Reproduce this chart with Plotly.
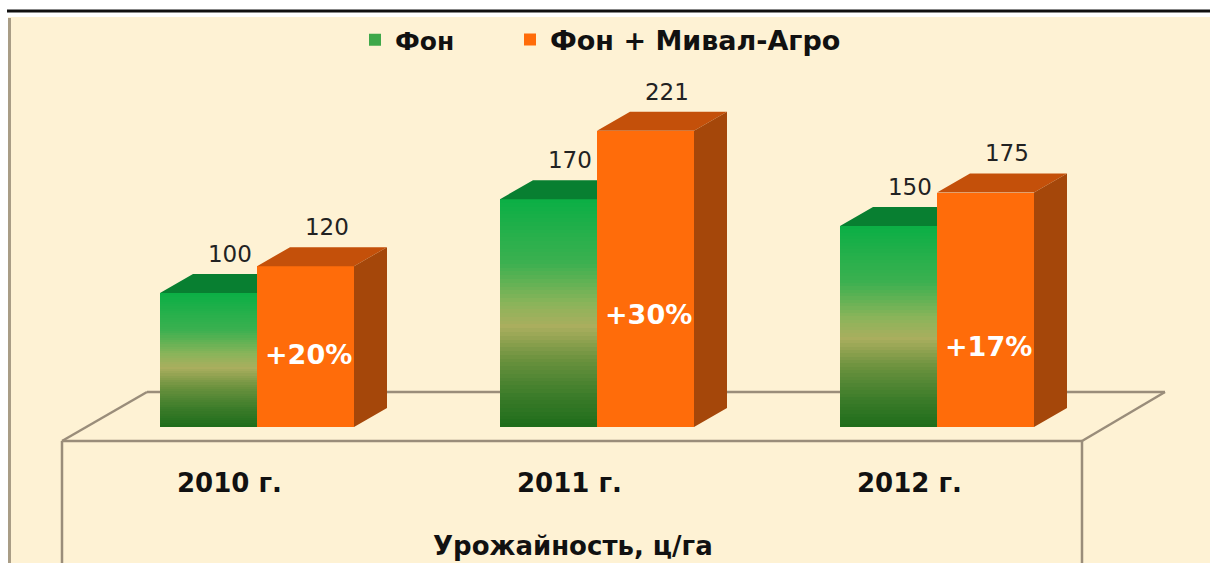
import plotly.graph_objects as go

# ---------------- data ----------------
categories = ["2010 г.", "2011 г.", "2012 г."]
fon = [100, 170, 150]
fon_mival = [120, 221, 175]
series_names = ["Фон", "Фон + Мивал-Агро"]
axis_title = "Урожайность, ц/га"

# ---------------- geometry (pixel calibration of the picture) ----------------
W, H = 1210, 563
X_SCALE = 340.0   # px per category step
X0_PX = 257.0     # px position of the first category centre
Y_SCALE = 1.34    # px per unit of yield
Y0_PX = 427.0     # px position of zero


def xd(p):
    return (p - X0_PX) / X_SCALE


def yd(p):
    return (Y0_PX - p) / Y_SCALE


BAR_W = 97 / X_SCALE
DEPTH_X = 33 / X_SCALE
DEPTH_Y = 19 / Y_SCALE

BOLD = "DejaVu Sans"
GREEN_TOP = "#087F31"
ORANGE_FRONT = "#FF6C0A"
ORANGE_TOP = "#C4500A"
ORANGE_SIDE = "#A5470A"
FLOOR_LINE = "#9A8D7A"
PANEL = "#FEF2D4"

# vertical gradient for the green bars (fraction from top -> rgb)
STOPS = [(0.0, (11, 175, 69)), (0.28, (60, 176, 80)), (0.46, (140, 180, 90)),
         (0.56, (170, 174, 94)), (0.70, (108, 146, 62)), (0.86, (60, 124, 42)),
         (1.0, (30, 108, 26))]


def grad(t):
    for (t0, c0), (t1, c1) in zip(STOPS[:-1], STOPS[1:]):
        if t0 <= t <= t1:
            f = (t - t0) / (t1 - t0)
            return "rgb(%d,%d,%d)" % tuple(round(a + (b - a) * f) for a, b in zip(c0, c1))
    return "rgb(%d,%d,%d)" % STOPS[-1][1]


N_SEG = 60
gx, gbase, gh, gcol = [], [], [], []
for i, v in enumerate(fon):
    for k in range(N_SEG):
        gx.append(i)
        gbase.append(v * k / N_SEG)
        gh.append(v / N_SEG)
        gcol.append(grad(1 - (k + 0.5) / N_SEG))

fig = go.Figure()

# green front faces (gradient built from stacked slices of each value)
fig.add_trace(go.Bar(
    x=gx, y=gh, base=gbase, width=BAR_W, offset=-BAR_W,
    marker=dict(color=gcol, line=dict(width=0)),
    showlegend=False, hoverinfo="skip", name=series_names[0]))
# legend entry for the green series
fig.add_trace(go.Bar(x=[None], y=[None], name=series_names[0], legend="legend",
                     marker=dict(color="#3FA84A", line=dict(width=0))))
# orange front faces
fig.add_trace(go.Bar(
    x=list(range(len(categories))), y=fon_mival, width=BAR_W, offset=0,
    marker=dict(color=ORANGE_FRONT, line=dict(width=0)),
    name=series_names[1], legend="legend2"))


def polys(list_of_pts):
    xs, ys = [], []
    for pts in list_of_pts:
        for px, py in pts + [pts[0]]:
            xs.append(px)
            ys.append(py)
        xs.append(None)
        ys.append(None)
    return xs, ys


# green top faces (part not hidden by the orange bar)
gt = [[(i - BAR_W, v), (i, v), (i, v + DEPTH_Y), (i - BAR_W + DEPTH_X, v + DEPTH_Y)]
      for i, v in enumerate(fon)]
# orange top faces
ot = [[(i, v), (i + BAR_W, v), (i + BAR_W + DEPTH_X, v + DEPTH_Y), (i + DEPTH_X, v + DEPTH_Y)]
      for i, v in enumerate(fon_mival)]
# orange side faces
os_ = [[(i + BAR_W, 0), (i + BAR_W, v), (i + BAR_W + DEPTH_X, v + DEPTH_Y),
        (i + BAR_W + DEPTH_X, DEPTH_Y)] for i, v in enumerate(fon_mival)]

for pts, col in [(gt, GREEN_TOP), (ot, ORANGE_TOP), (os_, ORANGE_SIDE)]:
    xs, ys = polys(pts)
    fig.add_trace(go.Scatter(x=xs, y=ys, mode="lines", fill="toself", fillcolor=col,
                             line=dict(width=0, color=col), showlegend=False,
                             hoverinfo="skip"))

# value labels above the bars
LABEL_GAP = 18 / Y_SCALE
lx, ly, lt = [], [], []
for i, (a, b) in enumerate(zip(fon, fon_mival)):
    lx += [i - BAR_W / 2 + DEPTH_X * 0.65, i + BAR_W / 2 + DEPTH_X * 0.65]
    ly += [a + DEPTH_Y + LABEL_GAP, b + DEPTH_Y + LABEL_GAP]
    lt += [str(a), str(b)]
fig.add_trace(go.Scatter(x=lx, y=ly, text=lt, mode="text", textposition="middle center",
                         textfont=dict(family="DejaVu Sans", size=23, color="#222222"),
                         showlegend=False, hoverinfo="skip"))

# percentage gain labels on the orange bars
PCT_Y = [yd(354), yd(314), yd(346)]
annotations = []
for i, (a, b) in enumerate(zip(fon, fon_mival)):
    pct = round((b / a - 1) * 100)
    annotations.append(dict(x=i + BAR_W / 2 + 3 / X_SCALE, y=PCT_Y[i], xref="x", yref="y",
                            text="<b>+%d%%</b>" % pct, showarrow=False,
                            font=dict(family=BOLD, size=27, color="white")))

# category labels on the floor box
for i, c in enumerate(categories):
    annotations.append(dict(x=i - 28 / X_SCALE, y=yd(483), xref="x", yref="y",
                            text="<b>%s</b>" % c, showarrow=False,
                            font=dict(family=BOLD, size=26, color="#111111")))
annotations.append(dict(x=xd(573), y=yd(546), xref="x", yref="y",
                        text="<b>%s</b>" % axis_title, showarrow=False,
                        font=dict(family=BOLD, size=26, color="#111111")))

shapes = [
    # panel background
    dict(type="rect", xref="paper", yref="paper", x0=8 / W, x1=1, y0=0, y1=1 - 17 / H,
         fillcolor=PANEL, line=dict(width=0), layer="below"),
    # left border of the panel
    dict(type="line", xref="paper", yref="paper", x0=9.5 / W, x1=9.5 / W, y0=0,
         y1=1 - 18 / H, line=dict(color="#A99D86", width=3), layer="below"),
    # top rule
    dict(type="line", xref="paper", yref="paper", x0=7 / W, x1=1, y0=1 - 11 / H,
         y1=1 - 11 / H, line=dict(color="#111111", width=3), layer="below"),
]
floor_pts = [((147, 392), (1165, 392)), ((147, 392), (62, 441)), ((62, 441), (1082, 441)),
             ((1082, 441), (1165, 392)), ((62, 441), (62, 563)), ((1082, 441), (1082, 563))]
for (ax, ay), (bx, by) in floor_pts:
    shapes.append(dict(type="line", xref="x", yref="y", x0=xd(ax), y0=yd(ay),
                       x1=xd(bx), y1=yd(by), line=dict(color=FLOOR_LINE, width=2.5),
                       layer="below"))

legend_common = dict(orientation="h", xanchor="left", y=1 - 40 / H, yanchor="middle",
                     bgcolor="rgba(0,0,0,0)", itemwidth=30)

fig.update_layout(
    width=W, height=H, autosize=False,
    margin=dict(l=0, r=0, t=0, b=0, pad=0),
    paper_bgcolor="white", plot_bgcolor="rgba(0,0,0,0)",
    barmode="overlay", bargap=0,
    xaxis=dict(range=[xd(0), xd(W)], visible=False, fixedrange=True),
    yaxis=dict(range=[yd(H), yd(0)], visible=False, fixedrange=True),
    showlegend=True,
    legend=dict(x=355 / W, font=dict(family=BOLD, size=25, color="#111111", weight="bold"),
                **legend_common),
    legend2=dict(x=510 / W, font=dict(family=BOLD, size=27, color="#111111", weight="bold"),
                 **legend_common),
    shapes=shapes, annotations=annotations,
)

fig.write_html("out.html", config={"displayModeBar": False},
               post_script="document.body.style.margin='0';")
